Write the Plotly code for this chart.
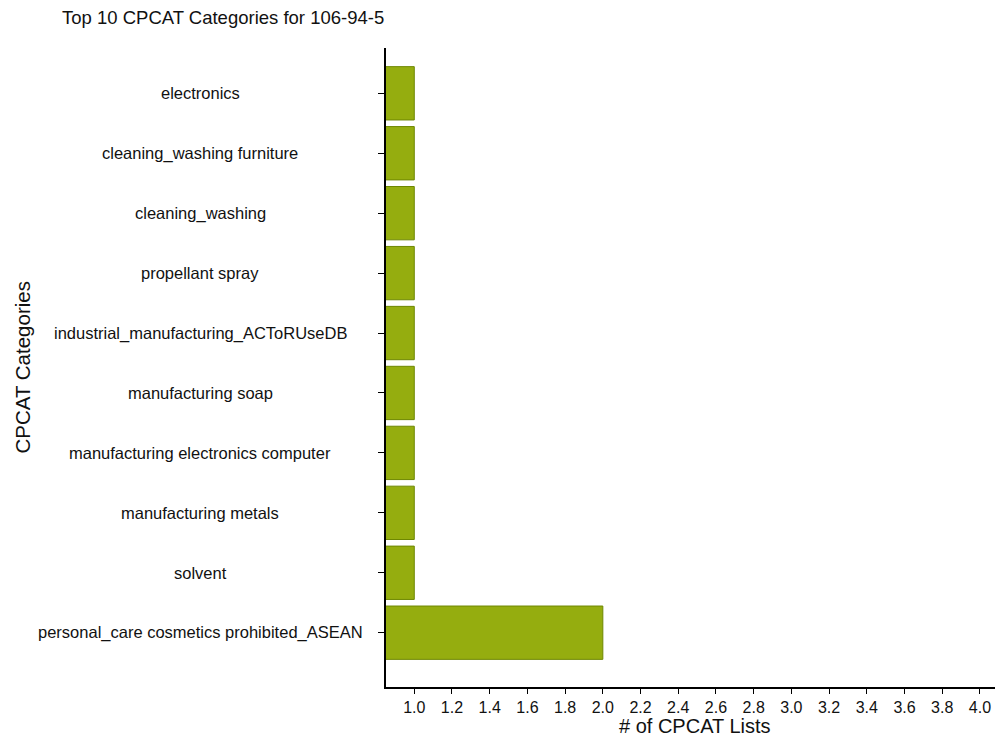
import plotly.graph_objects as go

# Data (listed bottom to top)
categories = [
    "personal_care cosmetics prohibited_ASEAN",
    "solvent",
    "manufacturing metals",
    "manufacturing electronics computer",
    "manufacturing soap",
    "industrial_manufacturing_ACToRUseDB",
    "propellant spray",
    "cleaning_washing",
    "cleaning_washing furniture",
    "electronics",
]
counts = [2, 1, 1, 1, 1, 1, 1, 1, 1, 1]
x_ticks = [1.0, 1.2, 1.4, 1.6, 1.8, 2.0, 2.2, 2.4, 2.6, 2.8, 3.0, 3.2, 3.4, 3.6, 3.8, 4.0]

FONT = "Liberation Sans, Arial, sans-serif"
L, R, T, B = 386, 2, 48, 49
W, H = 997, 736
pw = W - L - R
ph = H - T - B

fig = go.Figure()
fig.add_trace(go.Bar(
    y=categories, x=counts, orientation="h",
    marker=dict(color="#95ad0f", line=dict(color="#6e8700", width=1)),
    width=0.89,
))

annotations = []
for c in categories:
    annotations.append(dict(
        x=(200 - L) / pw, xref="paper", y=c, yref="y",
        text=c, showarrow=False, xanchor="center", yanchor="middle",
        font=dict(family=FONT, size=16.5, color="#111"),
    ))
annotations.append(dict(
    x=(22 - L) / pw, xref="paper", y=0.5, yref="paper",
    text="CPCAT Categories", textangle=-90, showarrow=False,
    xanchor="center", yanchor="middle",
    font=dict(family=FONT, size=20.5, color="#111"),
))
annotations.append(dict(
    x=(695 - L) / pw, xref="paper", y=-(726 - (H - B)) / ph, yref="paper",
    text="# of CPCAT Lists", showarrow=False,
    xanchor="center", yanchor="middle",
    font=dict(family=FONT, size=20, color="#111"),
))

fig.update_layout(
    width=W, height=H,
    margin=dict(l=L, r=R, t=T, b=B),
    paper_bgcolor="white", plot_bgcolor="white",
    showlegend=False,
    title=dict(text="Top 10 CPCAT Categories for 106-94-5",
               x=62 / W, xanchor="left", xref="container",
               y=1 - 18 / H, yanchor="middle",
               font=dict(family=FONT, size=18.5, color="#111")),
    annotations=annotations,
    xaxis=dict(
        range=[0.85, 4.08], tickvals=x_ticks,
        ticktext=[f"{v:.1f}" for v in x_ticks],
        showgrid=False, zeroline=False,
        showline=True, linecolor="black", linewidth=1.5,
        ticks="outside", ticklen=5, tickcolor="black",
        tickfont=dict(family=FONT, size=16, color="#111"),
    ),
    yaxis=dict(
        type="category", categoryorder="array", categoryarray=categories,
        range=[-0.906, 9.756],
        showticklabels=False, showgrid=False, zeroline=False,
        showline=True, linecolor="black", linewidth=1.5,
        ticks="outside", ticklen=6, tickcolor="black",
    ),
)

fig.write_html("out.html", config={"displayModeBar": False},
               post_script="document.body.style.margin='0';document.body.style.overflow='hidden';")
